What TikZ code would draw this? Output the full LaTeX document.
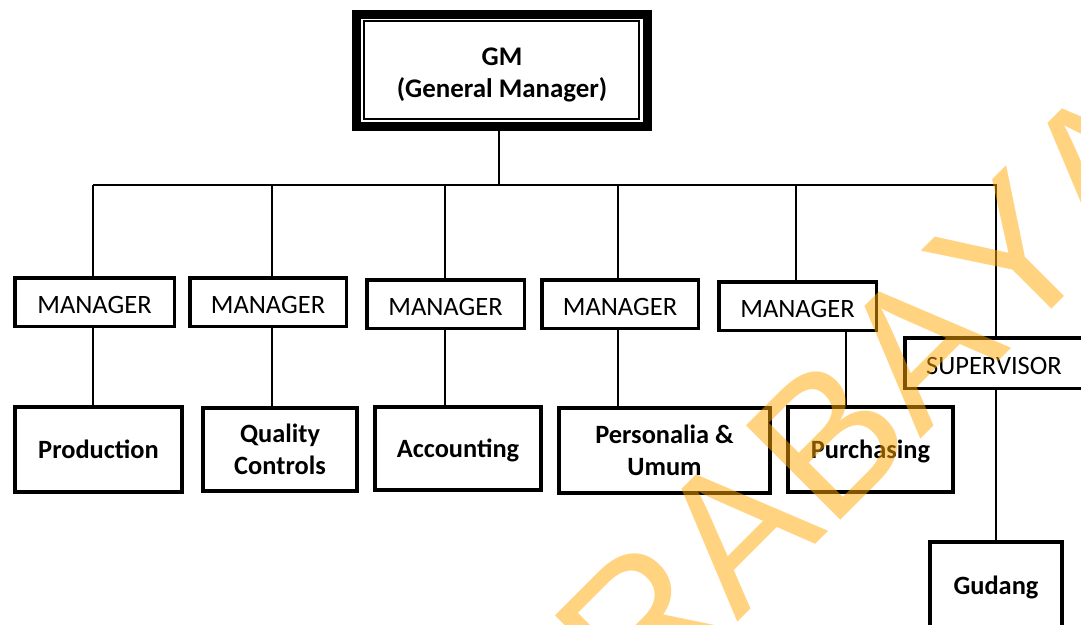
\documentclass[tikz,border=0pt]{standalone}
\usepackage{fontspec}
\setmainfont{Carlito}
\newfontfamily\wmfont[Kerning=Off]{Liberation Sans}
\definecolor{wmorange}{RGB}{255,168,0}
\begin{document}
\begin{tikzpicture}[x=1pt,y=-1pt,
  conn/.style={line width=2pt},
  mgrbox/.style={draw, line width=3.5pt, inner sep=0pt, outer sep=0pt,
    font=\fontsize{26.5}{30}\selectfont, text height=23pt, text depth=0pt},
  unitbox/.style={draw, line width=4pt, inner sep=0pt, outer sep=0pt, align=center,
    font=\fontsize{26.4}{32}\selectfont\bfseries},
  onerow/.style={text depth=0pt},
  gmbox/.style={draw, line width=2pt, inner sep=0pt, outer sep=0pt},
  gmtext/.style={align=center, inner sep=0pt, font=\fontsize{26.9}{32}\selectfont\bfseries},
  wmark/.style={font=\wmfont\fontsize{194}{194}\selectfont, text=wmorange,
    text opacity=0.5, inner sep=0pt, outer sep=0pt},
]
\useasboundingbox (0,0) rectangle (1081,624);
\clip (0,0) rectangle (1081,624);

% General manager: thin inner frame plus heavy outer frame
\node[gmbox, minimum width=275pt, minimum height=98pt] (gm) at (501.5,70) {};
\node[gmtext] (gmlabel) at (502,74.5) {GM\\(General Manager)};
\coordinate (frnw) at ([shift={(-7.5,-6.75)}]gm.north west);
\coordinate (frse) at ([shift={(8,7)}]gm.south east);
\draw[line width=9pt] (frnw) rectangle (frse);

% managers and supervisor
\node[mgrbox, minimum width=159.5pt, minimum height=48.5pt] (m1) at (94.5,302) {MANAGER};
\node[mgrbox, minimum width=156.5pt, minimum height=48.5pt] (m2) at (268,302) {MANAGER};
\node[mgrbox, minimum width=157.5pt, minimum height=48.5pt] (m3) at (445.5,304) {MANAGER};
\node[mgrbox, minimum width=156.5pt, minimum height=48.5pt] (m4) at (620,304) {MANAGER};
\node[mgrbox, minimum width=157.5pt, minimum height=48.5pt] (m5) at (797.5,306) {MANAGER};
\node[mgrbox, minimum width=178.5pt, minimum height=50.5pt] (sup) at (994,363) {SUPERVISOR};

% departments
\node[unitbox, minimum width=167pt, minimum height=85pt] (prod) at (98.5,449.5) {Production};
\node[unitbox, minimum width=154pt, minimum height=83pt] (qc) at (280,449.5) {Quality\\Controls};
\node[unitbox, onerow, minimum width=166pt, minimum height=83pt] (acc) at (458,448.5) {Accounting};
\node[unitbox, minimum width=211pt, minimum height=85pt] (pers) at (664.5,450) {Personalia \&\\Umum};
\node[unitbox, onerow, minimum width=165pt, minimum height=85pt] (pur) at (870.5,449.5) {Purchasing};
\node[unitbox, onerow, minimum width=132pt, minimum height=86pt] (gud) at (996,585) {Gudang};

% bus and drop points
\coordinate (gmdrop) at (499,185);
\coordinate (busL) at (93,185);
\coordinate (busR) at (996,185);
\coordinate (d1) at (93,185);
\coordinate (d2) at (272,185);
\coordinate (d3) at (445,185);
\coordinate (d4) at (618,185);
\coordinate (d5) at (796,185);
\coordinate (p5) at (846,185);

\draw[conn] (gmdrop |- frse) -- (gmdrop);
\draw[conn] (busL) -- (busR) -- (busR |- sup.north);
\draw[conn] (d1) -- (d1 |- m1.north);
\draw[conn] (d2) -- (d2 |- m2.north);
\draw[conn] (d3) -- (d3 |- m3.north);
\draw[conn] (d4) -- (d4 |- m4.north);
\draw[conn] (d5) -- (d5 |- m5.north);

\draw[conn] (d1 |- m1.south) -- (d1 |- prod.north);
\draw[conn] (d2 |- m2.south) -- (d2 |- qc.north);
\draw[conn] (d3 |- m3.south) -- (d3 |- acc.north);
\draw[conn] (d4 |- m4.south) -- (d4 |- pers.north);
\draw[conn] (p5 |- m5.south) -- (p5 |- pur.north);
\draw[conn] (busR |- sup.south) -- (busR |- gud.north);

% translucent diagonal stamp
\node[wmark, rotate=45, anchor=base west] (wm) at (448,912.5) {SURABAYA};
\end{tikzpicture}
\end{document}
